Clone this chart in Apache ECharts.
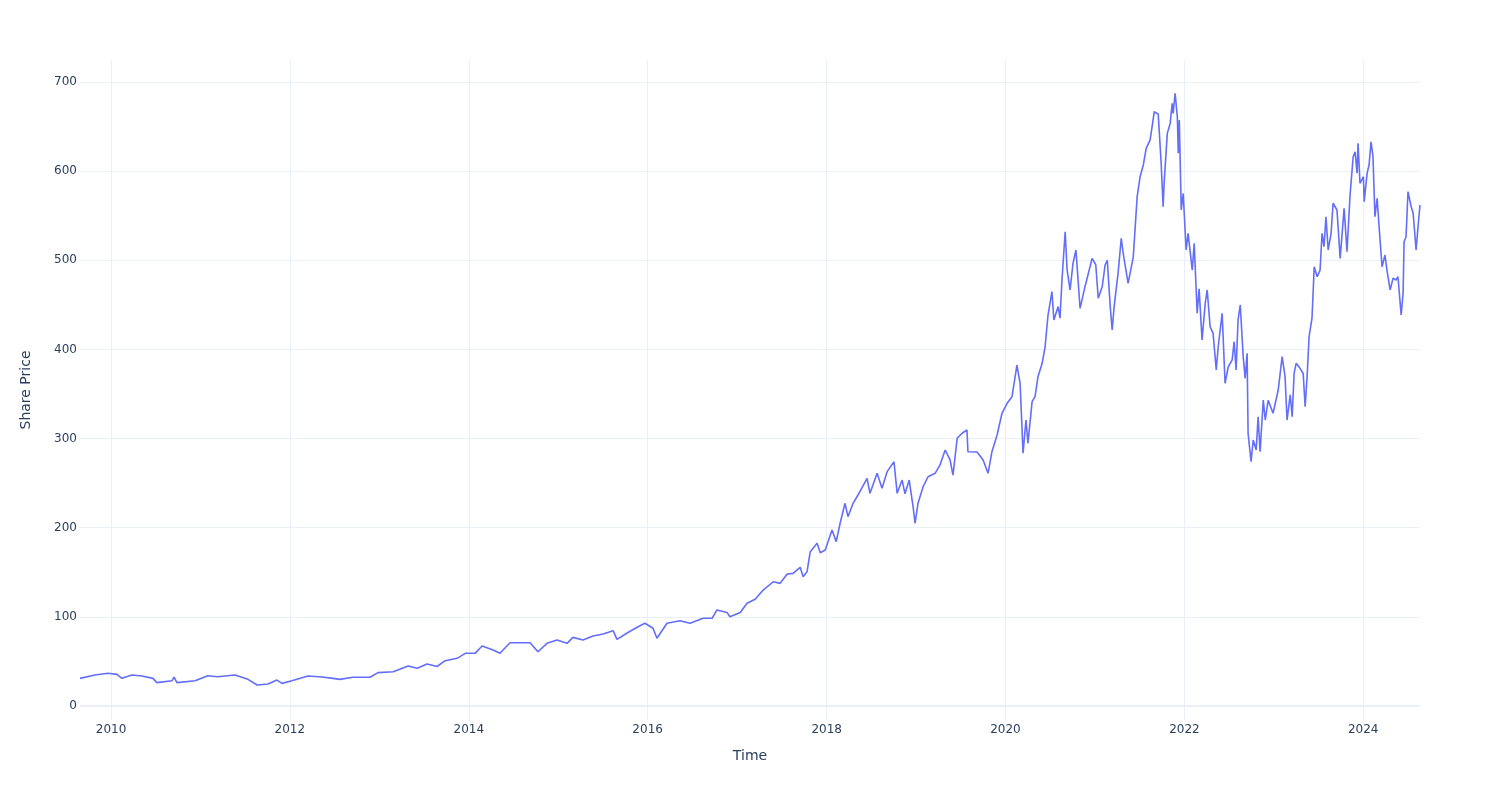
<!DOCTYPE html>
<html>
<head>
<meta charset="utf-8">
<script src="https://cdn.jsdelivr.net/npm/echarts@6/dist/echarts.min.js"></script>
<style>
html,body{margin:0;padding:0;background:#fff;}
#chart{width:1500px;height:800px;}
</style>
</head>
<body>
<div id="chart"></div>
<script>
const dates = [
"2009-08-27","2009-10-27","2009-12-19","2010-01-25","2010-02-14","2010-03-27","2010-05-07","2010-06-21","2010-07-07","2010-09-07",
"2010-09-15","2010-09-27","2010-12-10","2011-01-31","2011-03-13","2011-05-22","2011-07-14","2011-08-20","2011-10-04","2011-11-09",
"2011-11-30","2012-01-09","2012-03-15","2012-05-11","2012-06-25","2012-07-23","2012-09-14","2012-11-23","2012-12-26","2013-02-26",
"2013-04-28","2013-06-04","2013-07-14","2013-08-24","2013-09-26","2013-11-14","2013-12-17","2014-01-26","2014-02-24","2014-04-10",
"2014-05-08","2014-06-18","2014-07-29","2014-09-08","2014-10-10","2014-11-16","2014-12-27","2015-02-06","2015-03-02","2015-04-12",
"2015-05-23","2015-07-03","2015-08-13","2015-08-29","2015-10-09","2015-11-19","2015-12-21","2016-01-23","2016-02-08","2016-03-20",
"2016-05-12","2016-06-22","2016-08-14","2016-09-20","2016-10-10","2016-11-20","2016-12-02","2017-01-13","2017-02-10","2017-03-15",
"2017-04-17","2017-05-28","2017-06-25","2017-07-24","2017-08-17","2017-09-15","2017-09-27","2017-10-13","2017-10-26","2017-11-23",
"2017-12-06","2017-12-26","2018-01-23","2018-02-09","2018-02-25","2018-03-17","2018-03-29","2018-04-19","2018-05-09","2018-06-15",
"2018-06-27","2018-07-26","2018-08-15","2018-09-05","2018-10-03","2018-10-16","2018-11-05","2018-11-17","2018-12-04","2018-12-20",
"2018-12-28","2019-01-09","2019-01-30","2019-02-19","2019-03-20","2019-04-09","2019-04-30","2019-05-20","2019-06-01","2019-06-18",
"2019-07-08","2019-07-28","2019-08-01","2019-09-07","2019-10-02","2019-10-22","2019-11-07","2019-11-28","2019-12-18","2020-01-08",
"2020-01-28","2020-02-17","2020-03-01","2020-03-13","2020-03-25","2020-04-02","2020-04-19","2020-05-01","2020-05-13","2020-05-30",
"2020-06-11","2020-06-23","2020-07-09","2020-07-17","2020-08-03","2020-08-11","2020-08-19","2020-09-01","2020-09-09","2020-09-21",
"2020-10-03","2020-10-15","2020-11-01","2020-11-21","2020-12-20","2021-01-04","2021-01-14","2021-01-30","2021-02-11","2021-02-20",
"2021-03-04","2021-03-12","2021-03-20","2021-04-05","2021-04-18","2021-04-26","2021-05-16","2021-06-06","2021-06-22","2021-07-04",
"2021-07-17","2021-07-29","2021-08-14","2021-08-27","2021-08-31","2021-09-16","2021-09-28","2021-10-06","2021-10-10","2021-10-23",
"2021-11-04","2021-11-12","2021-11-16","2021-11-24","2021-12-03","2021-12-07","2021-12-11","2021-12-19","2021-12-27","2022-01-08",
"2022-01-16","2022-02-02","2022-02-10","2022-02-22","2022-03-02","2022-03-14","2022-03-27","2022-04-04","2022-04-16","2022-04-28",
"2022-05-11","2022-05-19","2022-06-04","2022-06-16","2022-06-29","2022-07-15","2022-07-23","2022-07-31","2022-08-08","2022-08-17",
"2022-08-29","2022-09-06","2022-09-14","2022-09-18","2022-09-30","2022-10-09","2022-10-21","2022-10-29","2022-11-06","2022-11-19",
"2022-11-27","2022-12-09","2022-12-29","2023-01-19","2023-02-04","2023-02-16","2023-02-24","2023-03-09","2023-03-17","2023-03-25",
"2023-04-02","2023-04-18","2023-05-01","2023-05-09","2023-05-17","2023-05-25","2023-06-06","2023-06-15","2023-06-27","2023-07-09",
"2023-07-17","2023-07-25","2023-08-02","2023-08-11","2023-08-23","2023-08-31","2023-09-16","2023-09-29","2023-10-15","2023-10-27",
"2023-11-08","2023-11-21","2023-11-29","2023-12-07","2023-12-11","2023-12-19","2024-01-02","2024-01-05","2024-01-17","2024-01-25",
"2024-02-02","2024-02-10","2024-02-18","2024-02-27","2024-03-06","2024-03-18","2024-03-30","2024-04-07","2024-04-20","2024-05-02",
"2024-05-14","2024-05-22","2024-06-04","2024-06-12","2024-06-16","2024-06-24","2024-07-02","2024-07-15","2024-07-23","2024-08-04",
"2024-08-12","2024-08-20"
];
const prices = [
31,34.8,36.7,35.5,31.1,34.8,33.7,31,26.2,28.4,
32.5,26.2,28.4,34,32.9,34.8,29.9,23.6,24.7,29.1,
25.4,28.4,33.7,32.5,31,29.9,32.2,32.2,37.4,38.5,
44.9,42.3,47.1,44.3,50.8,53.5,59.1,59.1,67.3,62.8,
59.1,71,71,71,60.9,70.3,74,70.3,77,74,
78.5,80.8,84.5,74.8,81.9,88.3,92.8,87.2,76,92.8,
95.7,92.8,98.4,98.4,107.7,105,100.2,105,115.2,119.7,
130.1,139.4,137.6,148.1,148.8,155.6,145,150.7,173.1,182.5,
172,175,197.4,184.4,205,227.4,212.4,227.4,236.7,255.4,
238.6,261,244.2,262.9,274,238.6,253.5,238,253.5,223.6,
205,227.4,246,257.2,261,270.4,287.2,276,259.1,300.3,
306,309.6,285.3,285,276,261,285.3,304,328.4,339.6,
347,382.5,362,283.5,320.8,294.7,341.4,347,369.4,384.4,
403,438.6,464.8,433,448,435,477.9,532,489,466.7,
496.6,511.6,446,470.4,502.2,495,457.4,470,494.7,500,
448,421.8,448,485.4,524.7,507.9,474.2,503.6,571.4,593.8,
606.9,625.6,635,659.3,666.7,664,608.8,560.1,586,642.4,
653.7,676,664.8,687.3,661,620,657.4,556.4,575,511.6,
530.3,489,519,440.5,468,410.6,451.8,466.7,425.5,418.1,
377,403,440.5,362,380.6,388.2,408.7,377,433,449.9,
391.9,367.6,395.7,306,274,298.4,287.2,324.5,285.3,343.3,
320.8,343,328.4,354.5,391.9,369.4,320.8,349,324.5,373.2,
384.4,378.8,373,335.8,369.4,414.3,435,492.8,481.6,489,
530.3,515.3,548.9,511.6,530.3,564,556.4,502.2,558.3,509.7,
571.4,616.2,621.8,597.6,631.2,586.4,593.8,565.8,597.6,606.9,
633,616.2,548.9,569.5,537.7,492.8,505.9,489,466.7,480,
477.9,481.6,438.6,463,520.9,526.5,577.1,560.1,552.7,511.6,
537.7,562
];
const yearTicks = [2010, 2012, 2014, 2016, 2018, 2020, 2022, 2024];
const priceTicks = [0, 100, 200, 300, 400, 500, 600, 700];

function toTime(s) {
  const p = s.split('-').map(Number);
  return new Date(p[0], p[1] - 1, p[2]).getTime();
}
const seriesData = dates.map((d, i) => [toTime(d), prices[i]]);
const yearTickValues = yearTicks.map(y => new Date(y, 0, 1).getTime());

const chart = echarts.init(document.getElementById('chart'), null, {renderer: 'canvas'});
const textColor = '#2a3f5f';
const gridColor = '#EBF0F8';
const fontFamily = '"DejaVu Sans", Verdana, sans-serif';

chart.setOption({
  animation: false,
  backgroundColor: '#ffffff',
  textStyle: {fontFamily: fontFamily},
  grid: {left: 80, right: 80, top: 60, bottom: 80, containLabel: false},
  xAxis: {
    type: 'value',
    min: toTime(dates[0]),
    max: toTime(dates[dates.length - 1]),
    name: 'Time',
    nameLocation: 'middle',
    nameGap: 29,
    nameTextStyle: {color: textColor, fontSize: 14, fontFamily: fontFamily},
    axisLine: {show: false, onZero: false},
    axisTick: {show: false, customValues: yearTickValues},
    axisLabel: {
      customValues: yearTickValues,
      color: textColor, fontSize: 12, fontFamily: fontFamily, margin: 4,
      formatter: v => String(new Date(v).getFullYear()),
      showMinLabel: true, showMaxLabel: true, hideOverlap: false
    },
    splitLine: {show: true, lineStyle: {color: gridColor, width: 1}}
  },
  yAxis: {
    type: 'value',
    min: -15.7,
    max: 724.7,
    name: 'Share Price',
    nameLocation: 'middle',
    nameGap: 47,
    nameTextStyle: {color: textColor, fontSize: 14, fontFamily: fontFamily},
    axisLine: {show: false},
    axisTick: {show: false, customValues: priceTicks},
    axisLabel: {customValues: priceTicks, color: textColor, fontSize: 12, fontFamily: fontFamily, margin: 3,
      showMinLabel: true, showMaxLabel: true},
    splitLine: {show: true, lineStyle: {color: gridColor, width: 1}}
  },
  series: [{
    type: 'line',
    data: seriesData,
    showSymbol: false,
    symbol: 'none',
    lineStyle: {color: '#636efa', width: 1.6},
    itemStyle: {color: '#636efa'},
    markLine: {
      silent: true,
      symbol: 'none',
      label: {show: false},
      lineStyle: {color: gridColor, width: 2, type: 'solid'},
      data: [{yAxis: 0}],
      z: 1
    },
    z: 2
  }]
});
</script>
</body>
</html>
